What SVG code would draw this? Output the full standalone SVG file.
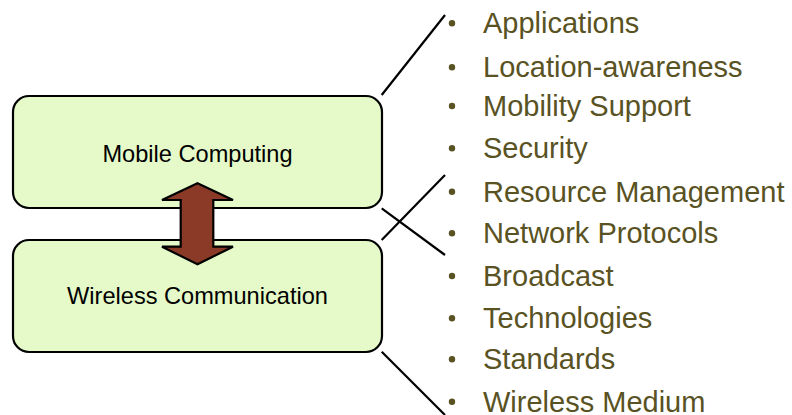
<svg xmlns="http://www.w3.org/2000/svg" width="792" height="415" viewBox="0 0 792 415">
<style>
.box{fill:#E5FAC8;stroke:#000;stroke-width:2.2}
.lbl{font-family:"Liberation Sans",Arial,sans-serif;font-size:23.6px;fill:#000;text-anchor:middle}
.item{font-family:"Liberation Sans",Arial,sans-serif;font-size:29px;fill:#595223}
.dot{fill:#595223}
.conn{stroke:#000;stroke-width:2.2;fill:none}
</style>
<rect width="792" height="415" fill="#fff"/>
<g id="mobile-computing">
<rect class="box" x="13" y="96" width="369" height="112" rx="16" ry="16"/>
<text class="lbl" x="197.5" y="162">Mobile Computing</text>
</g>
<g id="wireless-communication">
<rect class="box" x="13" y="240" width="369" height="112" rx="16" ry="16"/>
<text class="lbl" x="197.5" y="304">Wireless Communication</text>
</g>
<g id="double-arrow">
<path d="M197.5,183.3 L233,200 L213.3,200 L213.3,246.7 L233,246.7 L197.5,264.3 L162,246.7 L180.7,246.7 L180.7,200 L162,200 Z" fill="#8A3A26" stroke="#000" stroke-width="2.2" stroke-linejoin="miter"/>
</g>
<g id="connectors">
<line class="conn" x1="381.7" y1="95" x2="445" y2="15"/>
<line class="conn" x1="381.7" y1="240" x2="445" y2="175"/>
<line class="conn" x1="381.7" y1="208.3" x2="445" y2="255"/>
<line class="conn" x1="381.7" y1="351.7" x2="445" y2="415"/>
</g>
<g id="list">
<g class="dot">
<circle cx="452" cy="23.3" r="3.2"/>
<circle cx="452" cy="67.3" r="3.2"/>
<circle cx="452" cy="106" r="3.2"/>
<circle cx="452" cy="148.3" r="3.2"/>
<circle cx="452" cy="191.7" r="3.2"/>
<circle cx="452" cy="233.3" r="3.2"/>
<circle cx="452" cy="276" r="3.2"/>
<circle cx="452" cy="318.3" r="3.2"/>
<circle cx="452" cy="359.3" r="3.2"/>
<circle cx="452" cy="401.7" r="3.2"/>
</g>
<text class="item" x="483" y="33.3">Applications</text>
<text class="item" x="483" y="77.3">Location-awareness</text>
<text class="item" x="483" y="116">Mobility Support</text>
<text class="item" x="483" y="158.3">Security</text>
<text class="item" x="483" y="201.7">Resource Management</text>
<text class="item" x="483" y="243.3">Network Protocols</text>
<text class="item" x="483" y="286">Broadcast</text>
<text class="item" x="483" y="328.3">Technologies</text>
<text class="item" x="483" y="369.3">Standards</text>
<text class="item" x="483" y="411.7">Wireless Medium</text>
</g>
</svg>
